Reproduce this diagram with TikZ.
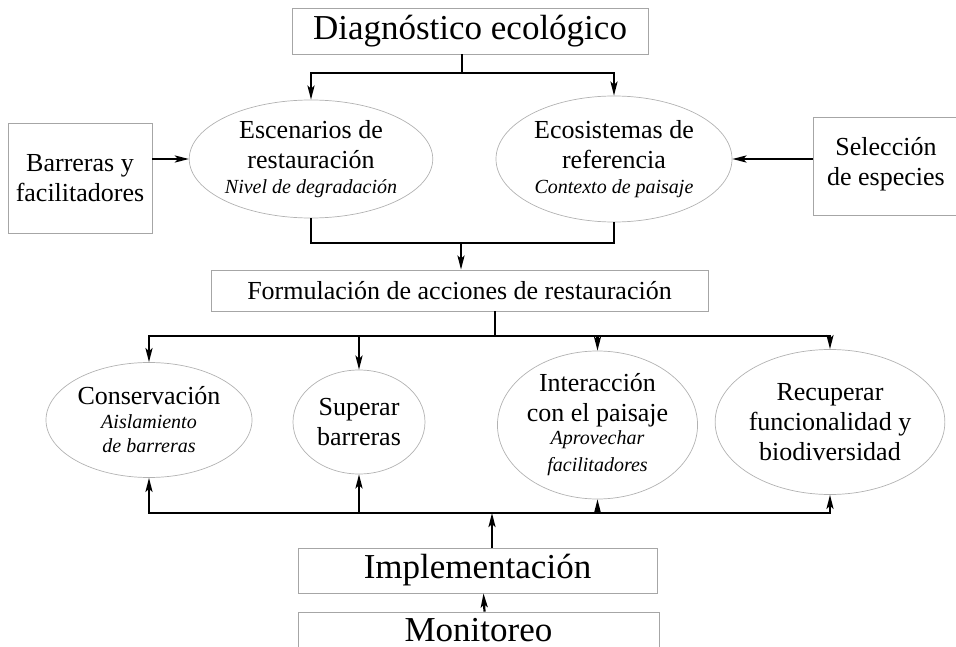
\documentclass[tikz,border=0pt]{standalone}
\usepackage{fontspec}
\setmainfont{Liberation Serif}
\usepackage{tikz}
\usetikzlibrary{arrows.meta, positioning, calc, shapes.geometric}

\def\txtL{\fontsize{35}{40}\selectfont}
\def\txtM{\fontsize{26}{30}\selectfont}
\def\txtS{\fontsize{20}{25}\selectfont\itshape}

\begin{document}
\begin{tikzpicture}[x=1pt, y=-1pt,
    boxnode/.style={draw=gray!70, line width=0.8pt, align=center, inner sep=0pt, font=\txtM},
    ovalnode/.style={ellipse, draw=gray!60, line width=0.7pt, align=center, inner sep=0pt, font=\txtM},
    conn/.style={line width=2.2pt},
    connarr/.style={line width=2.2pt, -{Stealth[length=14pt, width=7pt, inset=3pt]}}]
    \useasboundingbox (0,0) rectangle (956,647);
    % cajas principales
    \node[boxnode, minimum width=356, minimum height=46, font=\txtL] (diag) at (470,31) {Diagnóstico ecológico};
    \node[boxnode, minimum width=144, minimum height=110] (barr) at (80,178) {Barreras y\\facilitadores};
    \node[boxnode, minimum width=146, minimum height=98, text depth=9pt] (sel) at (886,166) {Selección\\de especies};
    \node[boxnode, minimum width=497, minimum height=41] (form) at (459.5,290.5) {Formulación de acciones de restauración};
    \node[boxnode, minimum width=359, minimum height=45, font=\txtL] (impl) at (477.5,570.5) {Implementación};
    \node[boxnode, minimum width=361, minimum height=36, font=\txtL] (mon) at (478.5,630) {Monitoreo};
    % escenarios y referencia
    \node[ovalnode, minimum width=228, minimum height=118] (esc) at (311,159) {Escenarios de\\restauración\\[-5pt]\txtS Nivel de degradación};
    \node[ovalnode, minimum width=236, minimum height=126] (eco) at (614,159) {Ecosistemas de\\referencia\\[-5pt]\txtS Contexto de paisaje};
    % acciones
    \node[ovalnode, minimum width=206, minimum height=115] (cons) at (149,420) {Conservación\\[-6pt]\txtS Aislamiento\\[-6pt]\txtS de barreras};
    \node[ovalnode, minimum width=132, minimum height=104] (sup) at (359,422) {Superar\\barreras};
    \node[ovalnode, minimum width=191, minimum height=148] (inter) at (597.5,425) {Interacción\\con el paisaje\\[-7pt]\txtS Aprovechar\\[-3pt]\txtS facilitadores};
    \node[ovalnode, minimum width=205, minimum height=145] (recu) at (830,422) {Recuperar\\funcionalidad y\\biodiversidad};

    % diagnostico -> escenarios / referencia
    \draw[conn] ([xshift=-8]diag.south) -- ++(0,19) coordinate (d1);
    \draw[connarr] (d1) -| (esc.north);
    \draw[connarr] (d1) -| (eco.north);
    \draw[connarr] (barr.east |- esc.west) -- (esc.west);
    \draw[connarr] (sel.west |- eco.east) -- (eco.east);
    % escenarios / referencia -> formulacion
    \coordinate (m1) at (461,243);
    \draw[conn] (esc.south) |- (m1) -| (eco.south);
    \draw[connarr] (m1) -- (m1 |- form.north);
    % formulacion -> acciones
    \coordinate (fb) at (495,336);
    \draw[conn] (fb |- form.south) -- (fb);
    \draw[connarr] (fb) -| (cons.north);
    \draw[connarr] (fb) -| (recu.north);
    \foreach \n in {sup, inter}
        \draw[connarr] (\n.north |- fb) -- (\n.north);
    % implementacion -> acciones
    \coordinate (ib) at (492,513);
    \draw[connarr] (impl.north -| ib) -- (ib);
    \draw[connarr] (ib) -| (cons.south);
    \draw[connarr] (ib) -| (recu.south);
    \foreach \n in {sup, inter}
        \draw[connarr] (\n.south |- ib) -- (\n.south);
    % monitoreo -> implementacion
    \draw[connarr] ([xshift=6]mon.north) -- ([xshift=6]impl.south);
\end{tikzpicture}
\end{document}
